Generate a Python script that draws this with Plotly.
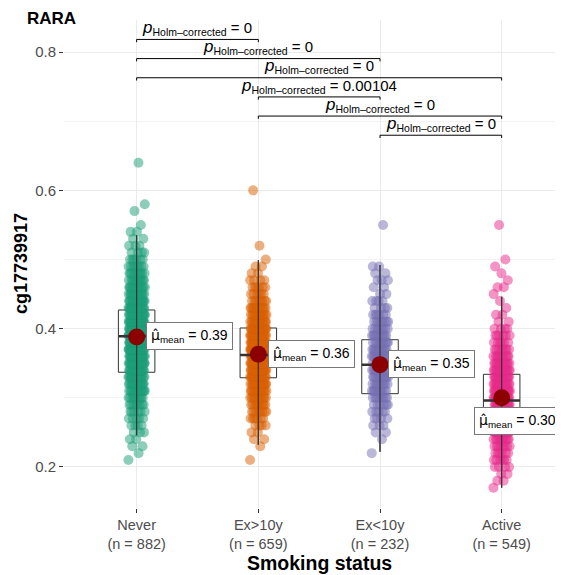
import numpy as np
import plotly.graph_objects as go

# ---------------- data ----------------
groups = ["Never", "Ex>10y", "Ex<10y", "Active"]
group_n = [882, 659, 232, 549]
colors = ["#1B9E77", "#D95F02", "#7570B3", "#E7298A"]

# distribution of the plotted points: value bins and how many points sit at each value
never_y = [0.21, 0.22, 0.23, 0.24, 0.25, 0.26, 0.27, 0.28, 0.29, 0.30, 0.31, 0.32, 0.33, 0.34,
           0.35, 0.36, 0.37, 0.38, 0.39, 0.40, 0.41, 0.42, 0.43, 0.44, 0.45, 0.46, 0.47, 0.48,
           0.49, 0.50, 0.51, 0.52, 0.53, 0.54, 0.55, 0.57, 0.58, 0.64]
never_n = [1, 1, 2, 2, 3, 4, 5, 6, 8, 10, 14, 16, 18, 20, 22, 24, 26, 27, 27, 26,
           25, 24, 22, 20, 16, 14, 12, 10, 8, 6, 4, 3, 2, 2, 1, 1, 1, 1]

exgt_y = [0.21, 0.23, 0.24, 0.25, 0.26, 0.27, 0.28, 0.29, 0.30, 0.31, 0.32, 0.33, 0.34, 0.35,
          0.36, 0.37, 0.38, 0.39, 0.40, 0.41, 0.42, 0.43, 0.44, 0.45, 0.46, 0.47, 0.48, 0.49,
          0.50, 0.52, 0.60]
exgt_n = [1, 1, 2, 2, 4, 6, 8, 10, 12, 16, 18, 20, 22, 24, 24, 24, 24, 22, 20, 16,
          14, 12, 8, 6, 6, 4, 2, 2, 1, 1, 1]

exlt_y = [0.22, 0.24, 0.25, 0.26, 0.27, 0.28, 0.29, 0.30, 0.31, 0.32, 0.33, 0.34, 0.35, 0.36,
          0.37, 0.38, 0.39, 0.40, 0.41, 0.42, 0.43, 0.44, 0.45, 0.46, 0.47, 0.48, 0.49, 0.55]
exlt_n = [1, 1, 2, 3, 4, 5, 6, 8, 10, 10, 12, 12, 12, 12, 12, 10, 10, 8, 8, 6,
          4, 4, 2, 2, 3, 2, 2, 1]

active_y = [0.17, 0.18, 0.19, 0.20, 0.21, 0.22, 0.23, 0.24, 0.25, 0.26, 0.27, 0.28, 0.29, 0.30,
            0.31, 0.32, 0.33, 0.34, 0.35, 0.36, 0.37, 0.38, 0.39, 0.40, 0.41, 0.42, 0.43, 0.44,
            0.45, 0.46, 0.47, 0.48, 0.49, 0.50, 0.55]
active_n = [1, 2, 2, 4, 6, 6, 8, 10, 14, 16, 16, 18, 20, 20, 20, 18, 16, 16, 14, 10,
            8, 6, 6, 4, 2, 2, 1, 1, 1, 2, 1, 1, 1, 1, 1]

# box-plot statistics
box_q1 = [0.337, 0.329, 0.306, 0.268]
box_median = [0.389, 0.362, 0.348, 0.296]
box_q3 = [0.427, 0.401, 0.384, 0.334]
box_low = [0.246, 0.232, 0.222, 0.170]
box_high = [0.535, 0.499, 0.492, 0.446]
group_mean = [0.388, 0.363, 0.348, 0.300]
mean_text = ["0.39", "0.36", "0.35", "0.30"]

# pairwise comparisons
pairs = [(1, 2), (1, 3), (1, 4), (2, 3), (2, 4), (3, 4)]
pair_p = ["0", "0", "0", "0.00104", "0", "0"]

# ---------------- figure ----------------
FONT = "Liberation Sans, Arial, sans-serif"
fig = go.Figure()

point_sets = [(never_y, never_n), (exgt_y, exgt_n), (exlt_y, exlt_n), (active_y, active_n)]
for gi, (vals, cnts) in enumerate(point_sets):
    ys = np.repeat(vals, cnts)
    k = len(ys)
    jit = ((np.arange(k) * 0.6180339887) % 1.0 - 0.5) * 2 * 0.068
    fig.add_trace(go.Scatter(
        x=(gi + 1) + jit, y=ys, mode="markers",
        marker=dict(size=10, color=colors[gi], opacity=0.5, line=dict(width=0)),
        hoverinfo="skip"))

for gi in range(4):
    xi = gi + 1
    fig.add_trace(go.Box(
        x=[xi], q1=[box_q1[gi]], median=[box_median[gi]], q3=[box_q3[gi]],
        lowerfence=[box_low[gi]], upperfence=[box_high[gi]],
        width=0.3, whiskerwidth=0, boxpoints=False,
        fillcolor="rgba(255,255,255,0.25)",
        line=dict(color="#333333", width=1), hoverinfo="skip"))
    fig.add_trace(go.Scatter(x=[xi, xi], y=[box_low[gi], box_high[gi]], mode="lines",
                             line=dict(color="#333333", width=1.2), hoverinfo="skip"))
    fig.add_trace(go.Scatter(x=[xi - 0.15, xi + 0.15], y=[box_median[gi]] * 2, mode="lines",
                             line=dict(color="#333333", width=2.5), hoverinfo="skip"))

fig.add_trace(go.Scatter(
    x=[1, 2, 3, 4], y=group_mean, mode="markers",
    marker=dict(size=17, color="#8B0000", line=dict(width=0)), hoverinfo="skip"))

# significance brackets
annotations = []
for k, ((a, b), p) in enumerate(zip(pairs, pair_p)):
    yb = 0.8182 - 0.0277 * k
    tick = 0.004
    fig.add_trace(go.Scatter(x=[a, a, b, b], y=[yb - tick, yb, yb, yb - tick], mode="lines",
                             line=dict(color="black", width=1), hoverinfo="skip"))
    annotations.append(dict(
        x=(a + b) / 2, y=yb + 0.0165, xref="x", yref="y", showarrow=False,
        xanchor="center", yanchor="middle",
        text="<i style='font-size:17px'>p</i><sub>Holm\u2013corrected</sub> = " + p,
        font=dict(family=FONT, size=15, color="black")))

# mean labels
HAT_MU = "<span style='font-family:DejaVu Sans'>\u03bc\u0302</span>"
label_pos = [(1.076, 0.390), (2.079, 0.363), (3.066, 0.349), (3.77, 0.2665)]
for gi in range(4):
    lx, ly = label_pos[gi]
    annotations.append(dict(
        x=lx, y=ly, xref="x", yref="y", showarrow=False, xanchor="left", yanchor="middle",
        text=HAT_MU + "<sub>mean</sub> = " + mean_text[gi],
        font=dict(family=FONT, size=14, color="black"),
        bgcolor="white", bordercolor="#777777", borderwidth=1, borderpad=4))

# page has an 8px body margin: figure is drawn from (8, 8)
OFF = 8
W, H = 563 - OFF, 575 - OFF
L, R, T = 64 - OFF, 0, 20 - OFF
B = H - (508 - OFF)
pw, ph = W - L - R, H - T - B


def px_to_paper(px, py):
    return (px - OFF - L) / pw, (H - B - (py - OFF)) / ph


tx, ty = px_to_paper(25, 18)
annotations.append(dict(x=tx, y=ty, xref="paper", yref="paper", showarrow=False,
                        xanchor="left", yanchor="middle", text="<b>RARA</b>",
                        font=dict(family=FONT, size=17, color="black")))
yx, yy = px_to_paper(21, 264)
annotations.append(dict(x=yx, y=yy, xref="paper", yref="paper", showarrow=False,
                        xanchor="center", yanchor="middle", textangle=-90,
                        text="<b>cg17739917</b>",
                        font=dict(family=FONT, size=18, color="black")))
xx, xy = px_to_paper(319.5, 563)
annotations.append(dict(x=xx, y=xy, xref="paper", yref="paper", showarrow=False,
                        xanchor="center", yanchor="middle", text="<b>Smoking status</b>",
                        font=dict(family=FONT, size=19.5, color="black")))

ticktext = [f"{g}<br>(n = {n})" for g, n in zip(groups, group_n)]

fig.update_layout(
    width=W, height=H, margin=dict(l=L, r=R, t=T, b=B),
    plot_bgcolor="white", paper_bgcolor="white", showlegend=False,
    font=dict(family=FONT),
    annotations=annotations,
    xaxis=dict(range=[0.403, 4.504], tickvals=[1, 2, 3, 4], ticktext=ticktext,
               showgrid=True, gridcolor="#ebebeb", gridwidth=1, zeroline=False,
               ticks="outside", ticklen=4, tickcolor="#333333", showline=False,
               tickfont=dict(family=FONT, size=14.5, color="#4d4d4d")),
    yaxis=dict(range=[0.1407, 0.8463], tickvals=[0.2, 0.4, 0.6, 0.8],
               ticktext=["0.2", "0.4", "0.6", "0.8"],
               showgrid=True, gridcolor="#ebebeb", gridwidth=1, zeroline=False,
               ticks="outside", ticklen=4, tickcolor="#333333", showline=False,
               tickfont=dict(family=FONT, size=15, color="#4d4d4d"),
               minor=dict(tickvals=[0.3, 0.5, 0.7], showgrid=True, gridcolor="#f3f3f3",
                          ticks="")),
)

fig.write_html("out.html")
